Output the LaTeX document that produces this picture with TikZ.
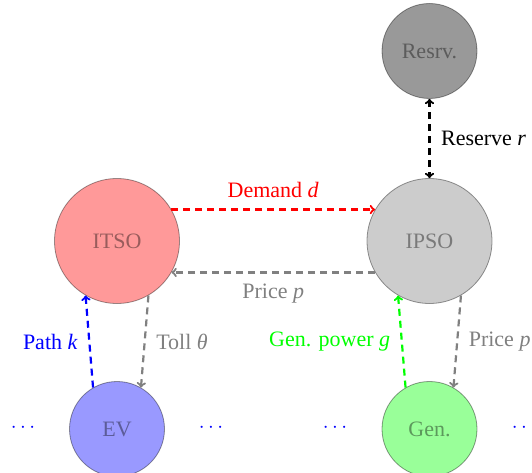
\documentclass[tikz,border=0pt]{standalone}
\usepackage{fontspec}
\setmainfont{Liberation Serif}
\begin{document}
\begin{tikzpicture}[x=1pt,y=-1pt, font=\fontsize{22}{26}\selectfont,
  agent/.style={circle, draw=black, line width=0.8pt, opacity=0.4, text opacity=0.4, inner sep=0pt, text=black},
  big/.style={agent, minimum size=125pt},
  small/.style={agent, minimum size=95pt},
  flow/.style={->, line width=2.2pt, dash pattern=on 7pt off 5pt},
  lbl/.style={midway, inner sep=10.5pt},
  dots/.style={blue}
]
\useasboundingbox (0,0) rectangle (532,473);
\node[big, fill=red] (itso) at (117,241) {ITSO};
\node[big, fill=gray] (ipso) at (429.5,241) {IPSO};
\node[small, fill=black] (resrv) at (429.5,51) {Resrv.};
\node[small, fill=blue] (ev) at (117,429) {EV};
\node[small, fill=green] (gen) at (429.5,429) {Gen.};
\draw[flow, red] (itso.30) -- (ipso.150) node[lbl, above] {Demand \textit{d}};
\draw[flow, gray] (ipso.210) -- (itso.-30) node[lbl, below] {Price \textit{p}};
\draw[flow, <->, black] (resrv.south) -- (ipso.north) node[lbl, right] {Reserve \textit{r}};
\draw[flow, blue] (ev.120) -- (itso.240) node[lbl, left] {Path \textit{k}};
\draw[flow, gray] (itso.300) -- (ev.60) node[lbl, right] {Toll \textit{θ}};
\draw[flow, green] (gen.120) -- (ipso.240) node[lbl, left] {Gen. power \textit{g}};
\draw[flow, gray] (ipso.300) -- (gen.60) node[lbl, right] {Price \textit{p}};
\node[dots] (d1) at (23,428) {$\cdots$};
\node[dots] (d2) at (211,428) {$\cdots$};
\node[dots] (d3) at (335,428) {$\cdots$};
\node[dots] (d4) at (524,428) {$\cdots$};
\end{tikzpicture}
\end{document}
